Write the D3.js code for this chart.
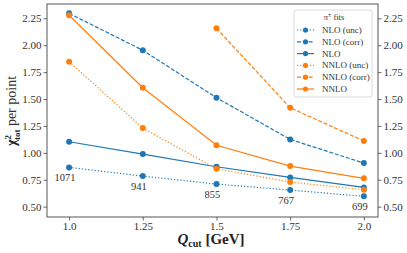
<!DOCTYPE html>
<html lang="en">
<head>
<meta charset="utf-8">
<title>chi2 per point vs Qcut</title>
<script src="https://cdn.jsdelivr.net/npm/d3@7"></script>
<style>
  body { margin: 0; background: #fff; }
  svg { display: block; font-family: "Liberation Serif", "DejaVu Serif", serif; }
  .tick text { fill: #333; font-family: "Liberation Serif", serif; }
</style>
</head>
<body>
<svg id="chart" width="407" height="253"></svg>
<script>
// Q_cut values (GeV)
var qcut = [1.0, 1.25, 1.5, 1.75, 2.0];
var xTickLabels = ['1.0', '1.25', '1.5', '1.75', '2.0'];
var yTicks = [0.5, 0.75, 1.0, 1.25, 1.5, 1.75, 2.0, 2.25];

// chi2 per point, one array per fit
var nloUnc   = [0.865, 0.784, 0.710, 0.654, 0.596];
var nloCorr  = [2.296, 1.953, 1.512, 1.125, 0.905];
var nlo      = [1.103, 0.989, 0.871, 0.772, 0.679];
var nnloUnc  = [1.847, 1.230, 0.852, 0.729, 0.657];
var nnloCorr = [null, null, 2.157, 1.419, 1.110];
var nnlo     = [2.278, 1.605, 1.070, 0.877, 0.763];

// number of points in each fit
var npoints = ['1071', '941', '855', '767', '699'];

var blue = '#1f77b4', orange = '#ff7f0e';
var series = [
  {name: 'NLO (unc)',   vals: nloUnc,   color: blue,   dash: '1.2,2'},
  {name: 'NLO (corr)',  vals: nloCorr,  color: blue,   dash: '4,1.8'},
  {name: 'NLO',         vals: nlo,      color: blue,   dash: null},
  {name: 'NNLO (unc)',  vals: nnloUnc,  color: orange, dash: '1.2,2'},
  {name: 'NNLO (corr)', vals: nnloCorr, color: orange, dash: '4,1.8'},
  {name: 'NNLO',        vals: nnlo,     color: orange, dash: null}
];

var svg = d3.select('#chart');
var L = 47, R = 378, T = 4, B = 217;

var x = d3.scaleLinear().domain([0.925, 2.048]).range([L, R]);
var y = d3.scaleLinear().domain([0.404, 2.383]).range([B, T]);

var axisColor = '#444';

// axes
var xAxis = d3.axisBottom(x).tickValues(qcut)
    .tickFormat(function(d, i) { return xTickLabels[i]; })
    .tickSize(3.5).tickPadding(2);
var yLeft = d3.axisLeft(y).tickValues(yTicks).tickFormat(d3.format('.2f'))
    .tickSize(3.5).tickPadding(2);
var yRight = d3.axisRight(y).tickValues(yTicks).tickFormat(d3.format('.2f'))
    .tickSize(3.5).tickPadding(2);

function styleAxis(g) {
  g.attr('font-family', null).attr('font-size', null);
  g.select('.domain').remove();
  g.selectAll('.tick line').attr('stroke', axisColor).attr('stroke-width', 0.8);
  g.selectAll('.tick text').attr('font-size', '11px');
}

svg.append('g').attr('transform', 'translate(0,' + B + ')').call(xAxis).call(styleAxis);
svg.append('g').attr('transform', 'translate(' + L + ',0)').call(yLeft).call(styleAxis);
svg.append('g').attr('transform', 'translate(' + R + ',0)').call(yRight).call(styleAxis);

// frame
svg.append('rect')
    .attr('x', L).attr('y', T)
    .attr('width', R - L).attr('height', B - T)
    .attr('fill', 'none').attr('stroke', axisColor).attr('stroke-width', 0.9);

// lines + markers
var line = d3.line()
    .defined(function(d) { return d[1] != null; })
    .x(function(d) { return x(d[0]); })
    .y(function(d) { return y(d[1]); });

var plot = svg.append('g');
series.forEach(function(s) {
  var pts = qcut.map(function(q, i) { return [q, s.vals[i]]; });
  plot.append('path')
      .datum(pts)
      .attr('d', line)
      .attr('fill', 'none')
      .attr('stroke', s.color)
      .attr('stroke-width', 1.2)
      .attr('stroke-dasharray', s.dash);
  plot.selectAll(null)
      .data(pts.filter(function(d) { return d[1] != null; }))
      .enter().append('circle')
      .attr('cx', function(d) { return x(d[0]); })
      .attr('cy', function(d) { return y(d[1]); })
      .attr('r', 3)
      .attr('fill', s.color);
});

// point-count annotations under NLO (unc)
svg.append('g').selectAll('text')
    .data(npoints)
    .enter().append('text')
    .attr('x', function(d, i) { return x(qcut[i]) - 4; })
    .attr('y', function(d, i) { return y(nloUnc[i]) + 14; })
    .attr('text-anchor', 'middle')
    .attr('font-size', '10.5px')
    .attr('fill', '#333')
    .text(function(d) { return d; });

// legend
var lg = svg.append('g');
lg.append('rect')
    .attr('x', 294).attr('y', 10).attr('width', 78).attr('height', 87)
    .attr('rx', 2.5)
    .attr('fill', 'rgba(255,255,255,0.85)')
    .attr('stroke', '#d0d0d0').attr('stroke-width', 0.8);
lg.append('text')
    .attr('x', 334).attr('y', 20)
    .attr('text-anchor', 'middle')
    .attr('font-size', '8.5px')
    .attr('fill', '#333')
    .html('\u03c0<tspan dy="-3" font-size="6px">\u00b1</tspan><tspan dy="3"> fits</tspan>');
series.forEach(function(s, i) {
  var ly = 30 + i * 11.8;
  lg.append('line')
      .attr('x1', 297).attr('x2', 314)
      .attr('y1', ly).attr('y2', ly)
      .attr('stroke', s.color).attr('stroke-width', 1.2)
      .attr('stroke-dasharray', s.dash);
  lg.append('circle').attr('cx', 305.5).attr('cy', ly).attr('r', 2.6).attr('fill', s.color);
  lg.append('text')
      .attr('x', 322).attr('y', ly + 3)
      .attr('font-size', '9px')
      .attr('fill', '#333')
      .text(s.name);
});

// axis labels
svg.append('text')
    .attr('x', 211).attr('y', 244)
    .attr('text-anchor', 'middle')
    .attr('font-size', '15px')
    .attr('fill', '#222')
    .html('<tspan font-weight="bold" font-style="italic">Q</tspan>' +
          '<tspan font-weight="bold" font-size="10px" dy="2.5">cut</tspan>' +
          '<tspan dy="-2.5" font-weight="bold"> [GeV]</tspan>');

svg.append('text')
    .attr('transform', 'translate(16,111) rotate(-90)')
    .attr('text-anchor', 'middle')
    .attr('font-size', '14px')
    .attr('fill', '#222')
    .html('<tspan font-weight="bold">\u03c7</tspan>' +
          '<tspan font-weight="bold" font-size="9px" dy="-5.5">2</tspan>' +
          '<tspan font-weight="bold" font-size="9px" dx="-5" dy="9">tot</tspan>' +
          '<tspan dy="-3.5" fill="#333"> per point</tspan>');
</script>
</body>
</html>
